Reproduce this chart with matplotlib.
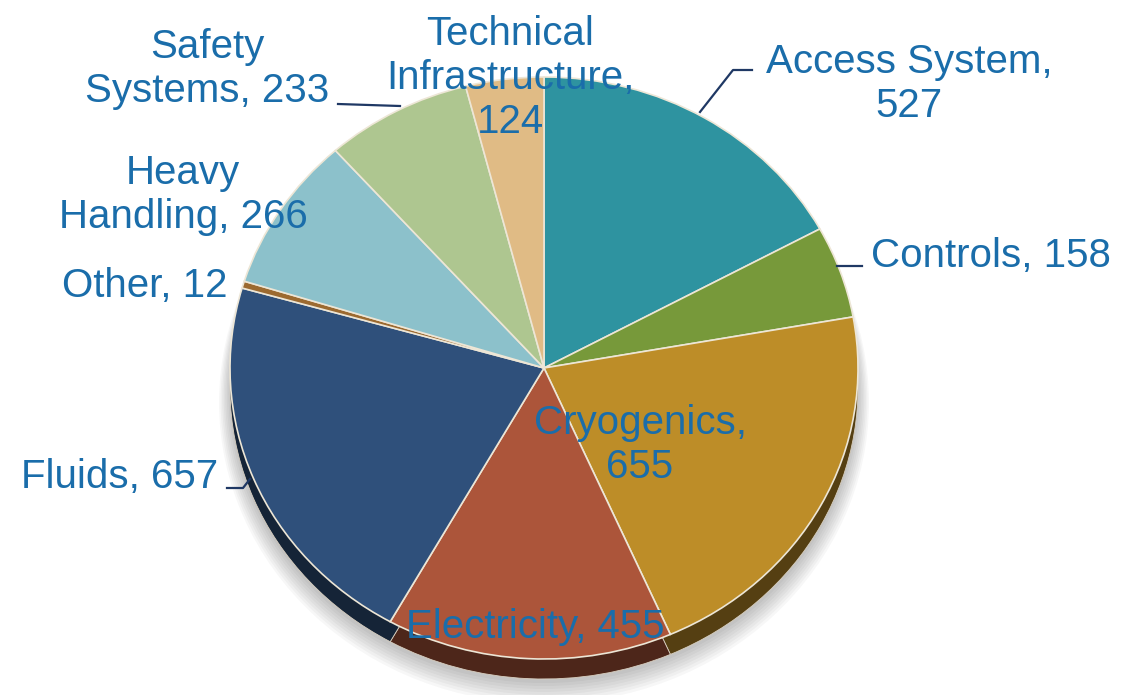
import numpy as np
import matplotlib.pyplot as plt
from matplotlib.colors import to_rgb
from matplotlib.patches import Ellipse

# data, clockwise from 12 o'clock
names = ['Access System', 'Controls', 'Cryogenics', 'Electricity', 'Fluids',
         'Other', 'Heavy\nHandling', 'Safety\nSystems', 'Technical\nInfrastructure']
values = [527, 158, 655, 455, 657, 12, 266, 233, 124]
seps = [',\n', ', ', ',\n', ', ', ', ', ', ', ', ', ', ', ',\n']
colors = ['#2E93A0', '#77993A', '#BD8D28', '#AC553A', '#2F507B',
          '#9C6A30', '#8CC1CB', '#AEC690', '#E0BB85']

# label centres in pixels (x, y from top)
label_pos = [(909, 84), (991, 256), (640, 445), (535, 627), (120, 477),
             (145, 286), (183, 195), (207, 69), (510, 78)]

# leader lines in pixels
leaders = [
    [(700, 112), (733, 70), (752, 70)],
    [(837, 266), (862, 266)],
    [(227, 488), (243, 488), (250, 479)],
    [(338, 104), (400, 106)],
]

W, H = 1134, 695
CX, CY, RX, RY = 544, 368, 314, 291


def px(x, y):
    return (x - CX) / RX, (CY - y) / RY


plt.rcParams['font.family'] = ['Liberation Sans', 'DejaVu Sans']
fig = plt.figure(figsize=(W / 100, H / 100), dpi=100)
ax = fig.add_axes([0, 0, 1, 1])

# soft shadow
for i in range(8):
    ax.add_patch(Ellipse((0.0, -(24 + i * 1.5) / RY), 2 + i * 0.01, 2 + i * 0.01,
                         facecolor='#000000', edgecolor='none', alpha=0.03, zorder=0))

# side wall of the tilted pie
dark = [tuple(c * 0.45 for c in to_rgb(col)) for col in colors]
ax.pie(values, colors=dark, startangle=90, counterclock=False,
       center=(0, -20 / RY), radius=1,
       wedgeprops=dict(edgecolor='#d8cfc0', linewidth=0.6))

# top surface
ax.pie(values, colors=colors, startangle=90, counterclock=False,
       center=(0, 0), radius=1,
       wedgeprops=dict(edgecolor='#EDE6D6', linewidth=1.2))

for pts in leaders:
    xy = np.array([px(x, y) for x, y in pts])
    ax.plot(xy[:, 0], xy[:, 1], color='#1F3864', lw=1.6, zorder=5)

for name, v, s, (x, y) in zip(names, values, seps, label_pos):
    tx, ty = px(x, y)
    ax.text(tx, ty, f'{name}{s}{v}', ha='center', va='center', fontsize=29,
            color='#1A6DAA', linespacing=1.2, zorder=6)

ax.set_aspect('auto')
ax.set_xlim(px(0, 0)[0], px(W, 0)[0])
ax.set_ylim(px(0, H)[1], px(0, 0)[1])
ax.axis('off')

fig.savefig('out.png', dpi=100)
